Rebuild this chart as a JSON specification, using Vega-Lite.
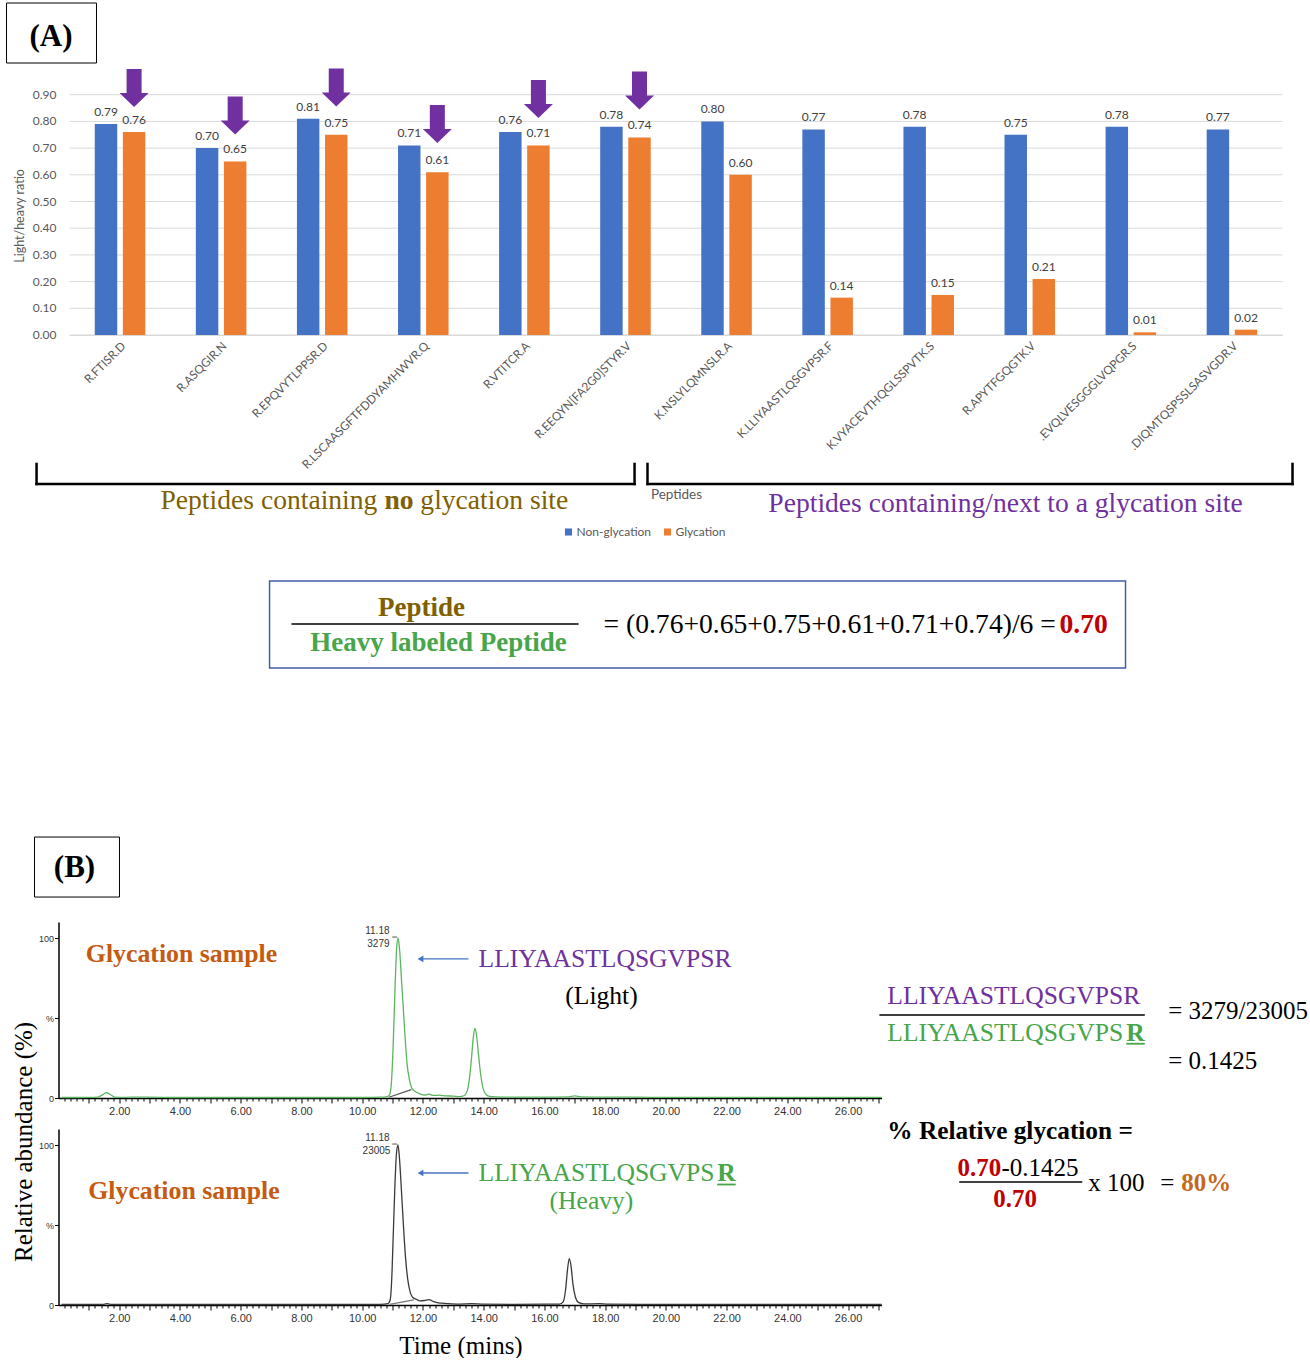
{
  "$schema": "https://vega.github.io/schema/vega-lite/v6.json",
  "background": "white",
  "padding": {"left": 5.5, "top": 2, "right": 0, "bottom": 0},
  "config": {"view": {"stroke": null}},
  "bounds": "flush",
  "spacing": 587,
  "vconcat": [
    {
      "width": 1224,
      "height": 267,
      "layer": [
        {
          "data": {"values": [
            {"value": 0}, {"value": 0.1}, {"value": 0.2}, {"value": 0.3}, {"value": 0.4},
            {"value": 0.5}, {"value": 0.6}, {"value": 0.7}, {"value": 0.8}, {"value": 0.9}
          ]},
          "encoding": {
            "y": {"field": "value", "type": "quantitative", "scale": {"domain": [0, 1], "nice": false}, "axis": null}
          },
          "layer": [
            {
              "mark": {"type": "rule", "color": "#D9D9D9", "strokeWidth": 1},
              "encoding": {
                "x": {"datum": 0, "type": "quantitative", "scale": {"domain": [0, 12], "range": [11, 1224], "nice": false, "zero": false}, "axis": null},
                "x2": {"datum": 12}
              }
            },
            {
              "mark": {"type": "text", "align": "right", "baseline": "middle", "font": "Lato", "fontSize": 12, "color": "#595959"},
              "encoding": {
                "x": {"datum": -0.129, "type": "quantitative", "scale": {"domain": [0, 12], "range": [11, 1224], "nice": false, "zero": false}, "axis": null},
                "text": {"field": "value", "type": "quantitative", "format": ".2f"}
              }
            }
          ]
        },
        {
          "data": {"values": [
            {"peptide": "R.FTISR.D", "series": "Non-glycation", "value": 0.79},
            {"peptide": "R.FTISR.D", "series": "Glycation", "value": 0.76},
            {"peptide": "R.ASQGIR.N", "series": "Non-glycation", "value": 0.70},
            {"peptide": "R.ASQGIR.N", "series": "Glycation", "value": 0.65},
            {"peptide": "R.EPQVYTLPPSR.D", "series": "Non-glycation", "value": 0.81},
            {"peptide": "R.EPQVYTLPPSR.D", "series": "Glycation", "value": 0.75},
            {"peptide": "R.LSCAASGFTFDDYAMHWVR.Q", "series": "Non-glycation", "value": 0.71},
            {"peptide": "R.LSCAASGFTFDDYAMHWVR.Q", "series": "Glycation", "value": 0.61},
            {"peptide": "R.VTITCR.A", "series": "Non-glycation", "value": 0.76},
            {"peptide": "R.VTITCR.A", "series": "Glycation", "value": 0.71},
            {"peptide": "R.EEQYN[FA2G0]STYR.V", "series": "Non-glycation", "value": 0.78},
            {"peptide": "R.EEQYN[FA2G0]STYR.V", "series": "Glycation", "value": 0.74},
            {"peptide": "K.NSLYLQMNSLR.A", "series": "Non-glycation", "value": 0.80},
            {"peptide": "K.NSLYLQMNSLR.A", "series": "Glycation", "value": 0.60},
            {"peptide": "K.LLIYAASTLQSGVPSR.F", "series": "Non-glycation", "value": 0.77},
            {"peptide": "K.LLIYAASTLQSGVPSR.F", "series": "Glycation", "value": 0.14},
            {"peptide": "K.VYACEVTHQGLSSPVTK.S", "series": "Non-glycation", "value": 0.78},
            {"peptide": "K.VYACEVTHQGLSSPVTK.S", "series": "Glycation", "value": 0.15},
            {"peptide": "R.APYTFGQGTK.V", "series": "Non-glycation", "value": 0.75},
            {"peptide": "R.APYTFGQGTK.V", "series": "Glycation", "value": 0.21},
            {"peptide": ".EVQLVESGGGLVQPGR.S", "series": "Non-glycation", "value": 0.78},
            {"peptide": ".EVQLVESGGGLVQPGR.S", "series": "Glycation", "value": 0.01},
            {"peptide": ".DIQMTQSPSSLSASVGDR.V", "series": "Non-glycation", "value": 0.77},
            {"peptide": ".DIQMTQSPSSLSASVGDR.V", "series": "Glycation", "value": 0.02}
          ]},
          "encoding": {
            "x": {
              "field": "peptide", "type": "nominal",
              "scale": {
                "domain": ["R.FTISR.D", "R.ASQGIR.N", "R.EPQVYTLPPSR.D", "R.LSCAASGFTFDDYAMHWVR.Q", "R.VTITCR.A", "R.EEQYN[FA2G0]STYR.V", "K.NSLYLQMNSLR.A", "K.LLIYAASTLQSGVPSR.F", "K.VYACEVTHQGLSSPVTK.S", "R.APYTFGQGTK.V", ".EVQLVESGGGLVQPGR.S", ".DIQMTQSPSSLSASVGDR.V"],
                "range": [11, 1224], "paddingInner": 0.5, "paddingOuter": 0.25
              },
              "axis": {
                "labelAngle": -45, "labelFont": "Lato", "labelFontSize": 11.8, "labelColor": "#595959",
                "labelPadding": 5, "labelLimit": 300, "ticks": false, "grid": false,
                "domainColor": "#D9D9D9", "domainWidth": 1,
                "title": "Peptides", "titleFont": "Lato", "titleFontSize": 13.5, "titleFontWeight": "normal",
                "titleColor": "#595959", "titleY": 159, "titleBaseline": "middle"
              }
            },
            "y": {
              "field": "value", "type": "quantitative",
              "scale": {"domain": [0, 1], "nice": false},
              "axis": null
            },
            "xOffset": {
              "field": "series", "type": "nominal",
              "scale": {"domain": ["Non-glycation", "Glycation"], "paddingInner": 0.2}
            }
          },
          "layer": [
            {
              "mark": {"type": "bar"},
              "encoding": {
                "color": {
                  "field": "series", "type": "nominal",
                  "scale": {"domain": ["Non-glycation", "Glycation"], "range": ["#4472C4", "#ED7D31"]},
                  "legend": {
                    "title": null, "orient": "none", "legendX": 504, "legendY": 458, "direction": "horizontal",
                    "symbolType": "square", "symbolSize": 50, "symbolStrokeWidth": 0,
                    "labelFont": "Lato", "labelFontSize": 12, "labelColor": "#595959",
                    "columnPadding": 10, "labelOffset": 2
                  }
                }
              }
            },
            {
              "mark": {"type": "text", "baseline": "bottom", "dy": -5, "font": "Lato", "fontSize": 12, "color": "#404040"},
              "encoding": {"text": {"field": "value", "type": "quantitative", "format": ".2f"}}
            },
            {
              "data": {"values": [
                {"peptide": "R.FTISR.D", "series": "Glycation", "value": 0.925},
                {"peptide": "R.ASQGIR.N", "series": "Glycation", "value": 0.822},
                {"peptide": "R.EPQVYTLPPSR.D", "series": "Glycation", "value": 0.927},
                {"peptide": "R.LSCAASGFTFDDYAMHWVR.Q", "series": "Glycation", "value": 0.790},
                {"peptide": "R.VTITCR.A", "series": "Glycation", "value": 0.884},
                {"peptide": "R.EEQYN[FA2G0]STYR.V", "series": "Glycation", "value": 0.916}
              ]},
              "mark": {
                "type": "point", "filled": true, "opacity": 1, "color": "#7030A0", "strokeWidth": 0, "size": 1444,
                "shape": "M-0.395,-1L0.395,-1L0.395,0.263L0.763,0.263L0,1L-0.763,0.263L-0.395,0.263Z"
              }
            }
          ]
        },
        {
          "encoding": {
            "x": {"field": "sx", "type": "quantitative", "scale": {"domain": [0, 12], "range": [11, 1224], "nice": false, "zero": false}, "axis": null},
            "y": {"field": "ry", "type": "quantitative", "scale": {"domain": [0, 1], "nice": false}, "axis": null}
          },
          "layer": [
            {
              "data": {"values": [{"sx": -0.485, "ry": 0.446, "txt": "Light/heavy ratio"}]},
              "mark": {"type": "text", "font": "Lato", "fontSize": 12.5, "color": "#595959", "align": "center", "baseline": "middle", "angle": 270},
              "encoding": {"text": {"field": "txt"}}
            },
            {
              "data": {"values": [{"sx": -0.623, "sx2": 0.267, "ry": 1.2434, "ry2": 1.0187}]},
              "mark": {"type": "rect", "filled": false, "stroke": "black", "strokeWidth": 1},
              "encoding": {"x2": {"field": "sx2"}, "y2": {"field": "ry2"}}
            },
            {
              "data": {"values": [{"sx": 1.979, "sx2": 10.447, "ry": -0.921, "ry2": -1.247}]},
              "mark": {"type": "rect", "filled": false, "stroke": "#3F5FA8", "strokeWidth": 1.5},
              "encoding": {"x2": {"field": "sx2"}, "y2": {"field": "ry2"}}
            },
            {
              "data": {"values": [
                {"sx": -0.326, "sx2": -0.326, "ry": -0.483, "ry2": -0.558},
                {"sx": -0.326, "sx2": 5.590, "ry": -0.558, "ry2": -0.558},
                {"sx": 5.590, "sx2": 5.590, "ry": -0.483, "ry2": -0.558},
                {"sx": 5.718, "sx2": 5.718, "ry": -0.483, "ry2": -0.558},
                {"sx": 5.718, "sx2": 12.099, "ry": -0.558, "ry2": -0.558},
                {"sx": 12.099, "sx2": 12.099, "ry": -0.483, "ry2": -0.558}
              ]},
              "mark": {"type": "rule", "color": "black", "strokeWidth": 2.5, "strokeCap": "square"},
              "encoding": {"x2": {"field": "sx2"}, "y2": {"field": "ry2"}}
            },
            {
              "data": {"values": [{"sx": 2.196, "sx2": 5.036, "ry": -1.082}]},
              "mark": {"type": "rule", "color": "black", "strokeWidth": 1.5},
              "encoding": {"x2": {"field": "sx2"}}
            },
            {
              "data": {"values": [{"sx": -0.183, "ry": 1.116, "txt": "(A)"}]},
              "mark": {"type": "text", "font": "Liberation Serif", "fontSize": 31, "fontWeight": "bold", "color": "black", "align": "center", "baseline": "middle"},
              "encoding": {"text": {"field": "txt"}}
            },
            {
              "data": {"values": [
                {"sx": 0.900, "ry": -0.622, "txt": "Peptides containing"},
                {"sx": 3.471, "ry": -0.622, "txt": "glycation site"}
              ]},
              "mark": {"type": "text", "font": "Liberation Serif", "fontSize": 27.6, "color": "#7F6000", "align": "left", "baseline": "middle"},
              "encoding": {"text": {"field": "txt"}}
            },
            {
              "data": {"values": [{"sx": 3.116, "ry": -0.622, "txt": "no"}]},
              "mark": {"type": "text", "font": "Liberation Serif", "fontSize": 27.6, "fontWeight": "bold", "color": "#7F6000", "align": "left", "baseline": "middle"},
              "encoding": {"text": {"field": "txt"}}
            },
            {
              "data": {"values": [{"sx": 9.260, "ry": -0.633, "txt": "Peptides containing/next to a glycation site"}]},
              "mark": {"type": "text", "font": "Liberation Serif", "fontSize": 27.6, "color": "#7030A0", "align": "center", "baseline": "middle"},
              "encoding": {"text": {"field": "txt"}}
            },
            {
              "data": {"values": [{"sx": 3.482, "ry": -1.022, "txt": "Peptide"}]},
              "mark": {"type": "text", "font": "Liberation Serif", "fontSize": 27, "fontWeight": "bold", "color": "#7F6000", "align": "center", "baseline": "middle"},
              "encoding": {"text": {"field": "txt"}}
            },
            {
              "data": {"values": [{"sx": 3.651, "ry": -1.154, "txt": "Heavy labeled Peptide"}]},
              "mark": {"type": "text", "font": "Liberation Serif", "fontSize": 27, "fontWeight": "bold", "color": "#47A54A", "align": "center", "baseline": "middle"},
              "encoding": {"text": {"field": "txt"}}
            },
            {
              "data": {"values": [{"sx": 5.283, "ry": -1.086, "txt": "= (0.76+0.65+0.75+0.61+0.71+0.74)/6 ="}]},
              "mark": {"type": "text", "font": "Liberation Serif", "fontSize": 27.6, "color": "black", "align": "left", "baseline": "middle"},
              "encoding": {"text": {"field": "txt"}}
            },
            {
              "data": {"values": [{"sx": 9.794, "ry": -1.086, "txt": "0.70"}]},
              "mark": {"type": "text", "font": "Liberation Serif", "fontSize": 27.6, "fontWeight": "bold", "color": "#C00000", "align": "left", "baseline": "middle"},
              "encoding": {"text": {"field": "txt"}}
            }
          ]
        }
      ],
      "resolve": {"scale": {"x": "independent"}}
    },
    {
      "bounds": "flush",
      "spacing": 31,
      "vconcat": [
        {
          "width": 823,
          "height": 176,
          "encoding": {
            "x": {
              "field": "t", "type": "quantitative",
              "scale": {"domain": [0, 27.1], "nice": false, "zero": false},
              "axis": {
                "values": [0.2,0.4,0.6,0.8,1,1.2,1.4,1.6,1.8,2,2.2,2.4,2.6,2.8,3,3.2,3.4,3.6,3.8,4,4.2,4.4,4.6,4.8,5,5.2,5.4,5.6,5.8,6,6.2,6.4,6.6,6.8,7,7.2,7.4,7.6,7.8,8,8.2,8.4,8.6,8.8,9,9.2,9.4,9.6,9.8,10,10.2,10.4,10.6,10.8,11,11.2,11.4,11.6,11.8,12,12.2,12.4,12.6,12.8,13,13.2,13.4,13.6,13.8,14,14.2,14.4,14.6,14.8,15,15.2,15.4,15.6,15.8,16,16.2,16.4,16.6,16.8,17,17.2,17.4,17.6,17.8,18,18.2,18.4,18.6,18.8,19,19.2,19.4,19.6,19.8,20,20.2,20.4,20.6,20.8,21,21.2,21.4,21.6,21.8,22,22.2,22.4,22.6,22.8,23,23.2,23.4,23.6,23.8,24,24.2,24.4,24.6,24.8,25,25.2,25.4,25.6,25.8,26,26.2,26.4,26.6,26.8,27],
                "labelExpr": "datum.value % 2 === 0 ? format(datum.value, '.2f') : ''",
                "tickSize": {"condition": {"test": "datum.value % 1 === 0", "value": 5}, "value": 3},
                "tickColor": "black", "domainColor": "black", "domainWidth": 1.5,
                "labelFont": "Liberation Sans", "labelFontSize": 11, "labelColor": "#333333", "labelPadding": 2,
                "labelOverlap": false, "labelFlush": false, "labelBound": false, "grid": false, "title": null
              }
            },
            "y": {
              "field": "v", "type": "quantitative",
              "scale": {"domain": [0, 110], "nice": false},
              "axis": {
                "values": [0, 50, 100], "labelExpr": "datum.value === 50 ? '%' : datum.label",
                "tickSize": 4, "tickColor": "black", "domainColor": "black", "domainWidth": 1.5,
                "labelFont": "Liberation Sans", "labelFontSize": 9, "labelColor": "#333333", "labelPadding": 1,
                "grid": false, "title": null
              }
            }
          },
          "layer": [
            {
              "data": {"values": [
                {"t": 0.1, "v": 0.3}, {"t": 0.6, "v": 0.3}, {"t": 1.0, "v": 0.4},
                {"t": 1.3, "v": 0.6}, {"t": 1.45, "v": 2.0}, {"t": 1.58, "v": 3.3},
                {"t": 1.72, "v": 2.0}, {"t": 1.85, "v": 0.6}, {"t": 2.2, "v": 0.4},
                {"t": 2.6, "v": 0.6}, {"t": 3.0, "v": 0.5}, {"t": 3.4, "v": 0.4},
                {"t": 4.0, "v": 0.3}, {"t": 6.0, "v": 0.3}, {"t": 8.0, "v": 0.3},
                {"t": 10.0, "v": 0.3}, {"t": 10.6, "v": 0.5}, {"t": 10.82, "v": 0.9},
                {"t": 10.9, "v": 2.0}, {"t": 10.96, "v": 9}, {"t": 11.02, "v": 33},
                {"t": 11.08, "v": 68}, {"t": 11.13, "v": 92}, {"t": 11.18, "v": 100},
                {"t": 11.23, "v": 93}, {"t": 11.3, "v": 72}, {"t": 11.37, "v": 51},
                {"t": 11.43, "v": 33}, {"t": 11.48, "v": 21}, {"t": 11.55, "v": 12},
                {"t": 11.64, "v": 6}, {"t": 11.75, "v": 4}, {"t": 11.9, "v": 2.6},
                {"t": 12.05, "v": 1.8}, {"t": 12.2, "v": 2.4}, {"t": 12.35, "v": 1.6},
                {"t": 12.55, "v": 1.8}, {"t": 12.75, "v": 1.3}, {"t": 13.0, "v": 1.2},
                {"t": 13.2, "v": 0.9}, {"t": 13.35, "v": 1.4}, {"t": 13.45, "v": 4},
                {"t": 13.53, "v": 12}, {"t": 13.6, "v": 25}, {"t": 13.66, "v": 38},
                {"t": 13.71, "v": 43.5}, {"t": 13.76, "v": 40}, {"t": 13.82, "v": 29},
                {"t": 13.9, "v": 15}, {"t": 13.98, "v": 6}, {"t": 14.08, "v": 2.2},
                {"t": 14.2, "v": 1}, {"t": 14.6, "v": 0.6}, {"t": 15.2, "v": 0.6},
                {"t": 16.0, "v": 0.5}, {"t": 16.8, "v": 0.7}, {"t": 17.0, "v": 1.3},
                {"t": 17.2, "v": 0.7}, {"t": 18.0, "v": 0.5}, {"t": 19.0, "v": 0.5},
                {"t": 20.0, "v": 0.4}, {"t": 22.0, "v": 0.4}, {"t": 24.0, "v": 0.4},
                {"t": 26.0, "v": 0.4}, {"t": 27.1, "v": 0.4}
              ]},
              "mark": {"type": "line", "strokeWidth": 1.3, "interpolate": "monotone", "color": "#5BB55E"}
            },
            {
              "data": {"values": [{"t": 10.88, "v": 0.5}, {"t": 11.62, "v": 5.2}]},
              "mark": {"type": "line", "strokeWidth": 1.2, "color": "#555555"}
            },
            {
              "data": {"values": [{"t": -0.79, "t2": 2.008, "v": 163.1, "v2": 125.6}]},
              "mark": {"type": "rect", "filled": false, "stroke": "black", "strokeWidth": 1},
              "encoding": {"x2": {"field": "t2"}, "y2": {"field": "v2"}}
            },
            {
              "data": {"values": [{"t": 0.527, "v": 143.75, "txt": "(B)"}]},
              "mark": {"type": "text", "font": "Liberation Serif", "fontSize": 31, "fontWeight": "bold", "color": "black", "align": "center", "baseline": "middle"},
              "encoding": {"text": {"field": "txt"}}
            },
            {
              "data": {"values": [{"t": 4.05, "v": 90, "txt": "Glycation sample"}]},
              "mark": {"type": "text", "font": "Liberation Serif", "fontSize": 25.8, "fontWeight": "bold", "color": "#C55A11", "align": "center", "baseline": "middle"},
              "encoding": {"text": {"field": "txt"}}
            },
            {
              "data": {"values": [{"t": 11.95, "t2": 13.5, "v": 86.9}]},
              "mark": {"type": "rule", "color": "#4472C4", "strokeWidth": 1.3},
              "encoding": {"x2": {"field": "t2"}}
            },
            {
              "data": {"values": [{"t": 11.92, "v": 86.9}]},
              "mark": {"type": "point", "shape": "triangle-left", "size": 45, "filled": true, "opacity": 1, "color": "#4472C4"}
            },
            {
              "data": {"values": [{"t": 10.99, "t2": 11.15, "v": 100.6}]},
              "mark": {"type": "rule", "color": "#555555", "strokeWidth": 1},
              "encoding": {"x2": {"field": "t2"}}
            },
            {
              "data": {"values": [
                {"t": 10.9, "v": 104.4, "txt": "11.18"},
                {"t": 10.9, "v": 96.25, "txt": "3279"}
              ]},
              "mark": {"type": "text", "font": "Liberation Sans", "fontSize": 10, "color": "#333333", "align": "right", "baseline": "middle"},
              "encoding": {"text": {"field": "txt"}}
            },
            {
              "data": {"values": [
                {"t": 13.83, "v": 86.9, "txt": "LLIYAASTLQSGVPSR"},
                {"t": 27.29, "v": 63.75, "txt": "LLIYAASTLQSGVPSR"}
              ]},
              "mark": {"type": "text", "font": "Liberation Serif", "fontSize": 25.6, "color": "#7030A0", "align": "left", "baseline": "middle"},
              "encoding": {"text": {"field": "txt"}}
            },
            {
              "data": {"values": [{"t": 17.88, "v": 63.75, "txt": "(Light)"}]},
              "mark": {"type": "text", "font": "Liberation Serif", "fontSize": 25.6, "color": "black", "align": "center", "baseline": "middle"},
              "encoding": {"text": {"field": "txt"}}
            },
            {
              "data": {"values": [{"t": 27.29, "v": 40.6, "txt": "LLIYAASTLQSGVPS"}]},
              "mark": {"type": "text", "font": "Liberation Serif", "fontSize": 25.6, "color": "#47A54A", "align": "left", "baseline": "middle"},
              "encoding": {"text": {"field": "txt"}}
            },
            {
              "data": {"values": [{"t": 35.16, "v": 40.6, "txt": "R"}]},
              "mark": {"type": "text", "font": "Liberation Serif", "fontSize": 25.6, "fontWeight": "bold", "color": "#47A54A", "align": "left", "baseline": "middle"},
              "encoding": {"text": {"field": "txt"}}
            },
            {
              "data": {"values": [{"t": 35.16, "t2": 35.77, "v": 33.9}]},
              "mark": {"type": "rule", "color": "#47A54A", "strokeWidth": 1.8},
              "encoding": {"x2": {"field": "t2"}}
            },
            {
              "data": {"values": [
                {"t": 27.03, "t2": 35.77, "v": 51.9},
                {"t": 29.66, "t2": 33.71, "v": -52.5}
              ]},
              "mark": {"type": "rule", "color": "black", "strokeWidth": 1.5},
              "encoding": {"x2": {"field": "t2"}}
            },
            {
              "data": {"values": [
                {"t": 36.54, "v": 54.4, "txt": "= 3279/23005"},
                {"t": 36.54, "v": 23.1, "txt": "= 0.1425"},
                {"t": 31.05, "v": -43.75, "txt": "-0.1425"},
                {"t": 33.91, "v": -53.1, "txt": "x 100"},
                {"t": 36.28, "v": -53.1, "txt": "="}
              ]},
              "mark": {"type": "text", "font": "Liberation Serif", "fontSize": 25, "color": "black", "align": "left", "baseline": "middle"},
              "encoding": {"text": {"field": "txt"}}
            },
            {
              "data": {"values": [{"t": 27.29, "v": -20.6, "txt": "% Relative glycation ="}]},
              "mark": {"type": "text", "font": "Liberation Serif", "fontSize": 25.3, "fontWeight": "bold", "color": "black", "align": "left", "baseline": "middle"},
              "encoding": {"text": {"field": "txt"}}
            },
            {
              "data": {"values": [
                {"t": 29.6, "v": -43.75, "txt": "0.70"},
                {"t": 30.78, "v": -63.1, "txt": "0.70"}
              ]},
              "mark": {"type": "text", "font": "Liberation Serif", "fontSize": 25, "fontWeight": "bold", "color": "#C00000", "align": "left", "baseline": "middle"},
              "encoding": {"text": {"field": "txt"}}
            },
            {
              "data": {"values": [{"t": 36.97, "v": -53.1, "txt": "80%"}]},
              "mark": {"type": "text", "font": "Liberation Serif", "fontSize": 25, "fontWeight": "bold", "color": "#C56A1C", "align": "left", "baseline": "middle"},
              "encoding": {"text": {"field": "txt"}}
            }
          ]
        },
        {
          "width": 823,
          "height": 176,
          "encoding": {
            "x": {
              "field": "t", "type": "quantitative",
              "scale": {"domain": [0, 27.1], "nice": false, "zero": false},
              "axis": {
                "values": [0.2,0.4,0.6,0.8,1,1.2,1.4,1.6,1.8,2,2.2,2.4,2.6,2.8,3,3.2,3.4,3.6,3.8,4,4.2,4.4,4.6,4.8,5,5.2,5.4,5.6,5.8,6,6.2,6.4,6.6,6.8,7,7.2,7.4,7.6,7.8,8,8.2,8.4,8.6,8.8,9,9.2,9.4,9.6,9.8,10,10.2,10.4,10.6,10.8,11,11.2,11.4,11.6,11.8,12,12.2,12.4,12.6,12.8,13,13.2,13.4,13.6,13.8,14,14.2,14.4,14.6,14.8,15,15.2,15.4,15.6,15.8,16,16.2,16.4,16.6,16.8,17,17.2,17.4,17.6,17.8,18,18.2,18.4,18.6,18.8,19,19.2,19.4,19.6,19.8,20,20.2,20.4,20.6,20.8,21,21.2,21.4,21.6,21.8,22,22.2,22.4,22.6,22.8,23,23.2,23.4,23.6,23.8,24,24.2,24.4,24.6,24.8,25,25.2,25.4,25.6,25.8,26,26.2,26.4,26.6,26.8,27],
                "labelExpr": "datum.value % 2 === 0 ? format(datum.value, '.2f') : ''",
                "tickSize": {"condition": {"test": "datum.value % 1 === 0", "value": 5}, "value": 3},
                "tickColor": "black", "domainColor": "black", "domainWidth": 1.5,
                "labelFont": "Liberation Sans", "labelFontSize": 11, "labelColor": "#333333", "labelPadding": 2,
                "labelOverlap": false, "labelFlush": false, "labelBound": false, "grid": false,
                "title": "Time (mins)", "titleFont": "Liberation Serif", "titleFontSize": 25, "titleFontWeight": "normal",
                "titleColor": "black", "titleX": 402, "titleY": 40, "titleBaseline": "middle"
              }
            },
            "y": {
              "field": "v", "type": "quantitative",
              "scale": {"domain": [0, 110], "nice": false},
              "axis": {
                "values": [0, 50, 100], "labelExpr": "datum.value === 50 ? '%' : datum.label",
                "tickSize": 4, "tickColor": "black", "domainColor": "black", "domainWidth": 1.5,
                "labelFont": "Liberation Sans", "labelFontSize": 9, "labelColor": "#333333", "labelPadding": 1,
                "grid": false, "title": null
              }
            }
          },
          "layer": [
            {
              "data": {"values": [
                {"t": 0.1, "v": 0.3}, {"t": 1.5, "v": 0.4}, {"t": 1.6, "v": 0.9},
                {"t": 1.7, "v": 0.4}, {"t": 3.0, "v": 0.3}, {"t": 5.0, "v": 0.3},
                {"t": 7.0, "v": 0.3}, {"t": 9.0, "v": 0.3}, {"t": 10.6, "v": 0.4},
                {"t": 10.85, "v": 0.8}, {"t": 10.92, "v": 3}, {"t": 10.97, "v": 15},
                {"t": 11.02, "v": 42}, {"t": 11.08, "v": 76}, {"t": 11.13, "v": 95},
                {"t": 11.18, "v": 100}, {"t": 11.23, "v": 91}, {"t": 11.3, "v": 69},
                {"t": 11.37, "v": 46}, {"t": 11.43, "v": 29}, {"t": 11.5, "v": 16},
                {"t": 11.58, "v": 8}, {"t": 11.66, "v": 4.8}, {"t": 11.78, "v": 3.6},
                {"t": 11.9, "v": 2.6}, {"t": 12.05, "v": 2.8}, {"t": 12.2, "v": 3.3},
                {"t": 12.35, "v": 2.1}, {"t": 12.5, "v": 1.3}, {"t": 12.8, "v": 0.9},
                {"t": 13.2, "v": 0.6}, {"t": 13.6, "v": 0.8}, {"t": 14.0, "v": 0.5},
                {"t": 15.0, "v": 0.4}, {"t": 16.0, "v": 0.5}, {"t": 16.5, "v": 0.6},
                {"t": 16.62, "v": 2}, {"t": 16.7, "v": 10}, {"t": 16.76, "v": 22},
                {"t": 16.82, "v": 29}, {"t": 16.88, "v": 24}, {"t": 16.94, "v": 13},
                {"t": 17.02, "v": 5}, {"t": 17.12, "v": 1.6}, {"t": 17.3, "v": 0.7},
                {"t": 17.8, "v": 0.8}, {"t": 18.1, "v": 0.5}, {"t": 20.0, "v": 0.4},
                {"t": 24.0, "v": 0.4}, {"t": 27.1, "v": 0.4}
              ]},
              "mark": {"type": "line", "strokeWidth": 1.3, "interpolate": "monotone", "color": "#3A3A3A"}
            },
            {
              "data": {"values": [{"t": 10.9, "v": 0.4}, {"t": 11.7, "v": 3.2}]},
              "mark": {"type": "line", "strokeWidth": 1.2, "color": "#777777"}
            },
            {
              "data": {"values": [{"t": 4.13, "v": 71.25, "txt": "Glycation sample"}]},
              "mark": {"type": "text", "font": "Liberation Serif", "fontSize": 25.8, "fontWeight": "bold", "color": "#C55A11", "align": "center", "baseline": "middle"},
              "encoding": {"text": {"field": "txt"}}
            },
            {
              "data": {"values": [{"t": 11.95, "t2": 13.5, "v": 82.5}]},
              "mark": {"type": "rule", "color": "#4472C4", "strokeWidth": 1.3},
              "encoding": {"x2": {"field": "t2"}}
            },
            {
              "data": {"values": [{"t": 11.92, "v": 82.5}]},
              "mark": {"type": "point", "shape": "triangle-left", "size": 45, "filled": true, "opacity": 1, "color": "#4472C4"}
            },
            {
              "data": {"values": [{"t": 10.99, "t2": 11.15, "v": 100.6}]},
              "mark": {"type": "rule", "color": "#555555", "strokeWidth": 1},
              "encoding": {"x2": {"field": "t2"}}
            },
            {
              "data": {"values": [
                {"t": 10.9, "v": 104.4, "txt": "11.18"},
                {"t": 10.93, "v": 96.25, "txt": "23005"}
              ]},
              "mark": {"type": "text", "font": "Liberation Sans", "fontSize": 10, "color": "#333333", "align": "right", "baseline": "middle"},
              "encoding": {"text": {"field": "txt"}}
            },
            {
              "data": {"values": [{"t": 13.83, "v": 82.5, "txt": "LLIYAASTLQSGVPS"}]},
              "mark": {"type": "text", "font": "Liberation Serif", "fontSize": 25.6, "color": "#47A54A", "align": "left", "baseline": "middle"},
              "encoding": {"text": {"field": "txt"}}
            },
            {
              "data": {"values": [{"t": 21.69, "v": 82.5, "txt": "R"}]},
              "mark": {"type": "text", "font": "Liberation Serif", "fontSize": 25.6, "fontWeight": "bold", "color": "#47A54A", "align": "left", "baseline": "middle"},
              "encoding": {"text": {"field": "txt"}}
            },
            {
              "data": {"values": [{"t": 21.69, "t2": 22.3, "v": 75.3}]},
              "mark": {"type": "rule", "color": "#47A54A", "strokeWidth": 1.8},
              "encoding": {"x2": {"field": "t2"}}
            },
            {
              "data": {"values": [{"t": 17.55, "v": 65, "txt": "(Heavy)"}]},
              "mark": {"type": "text", "font": "Liberation Serif", "fontSize": 25.6, "color": "#47A54A", "align": "center", "baseline": "middle"},
              "encoding": {"text": {"field": "txt"}}
            },
            {
              "data": {"values": [{"t": -1.12, "v": 101.9, "txt": "Relative abundance (%)"}]},
              "mark": {"type": "text", "font": "Liberation Serif", "fontSize": 25, "color": "black", "align": "center", "baseline": "middle", "angle": 270},
              "encoding": {"text": {"field": "txt"}}
            }
          ]
        }
      ]
    }
  ]
}
